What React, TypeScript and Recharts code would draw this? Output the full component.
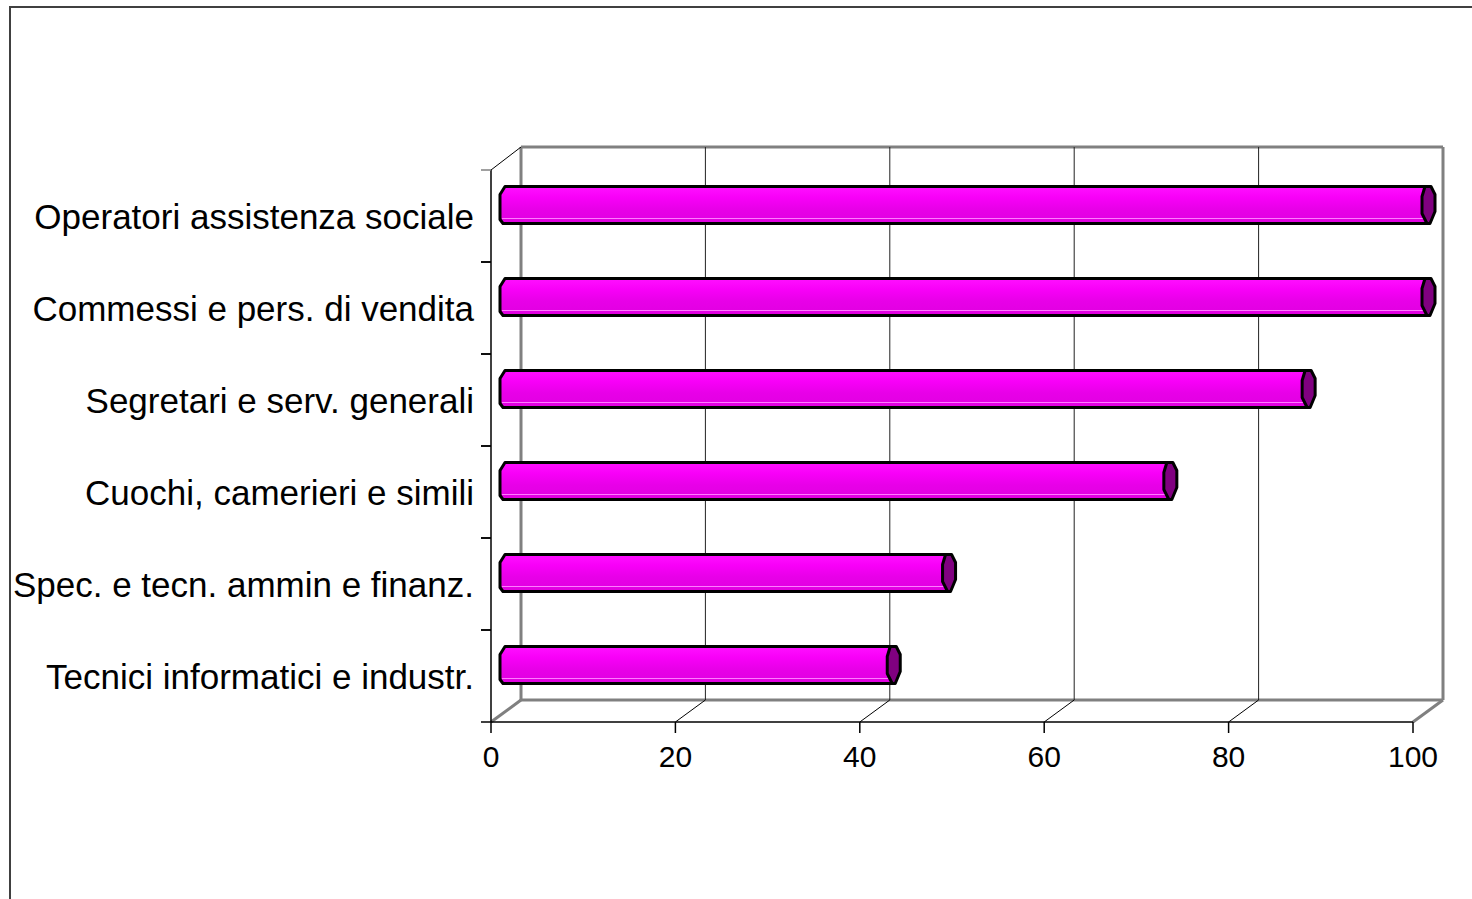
import React from 'react';
import { BarChart, Bar, XAxis, YAxis, CartesianGrid } from 'recharts';

const categories = [
  'Operatori assistenza sociale',
  'Commessi e pers. di vendita',
  'Segretari e serv. generali',
  'Cuochi, camerieri e simili',
  'Spec. e tecn. ammin e finanz.',
  'Tecnici informatici e industr.',
];
const values = [100, 100, 87, 72, 48, 42];
const xTicks = [0, 20, 40, 60, 80, 100];

const data = categories.map((name, i) => ({ name, value: values[i] }));

// 3d depth offset (Excel style)
const DX = 30;
const DY = 23;
const FONT = '"Liberation Sans", Arial, sans-serif';

const Prism = (props: any) => {
  const { x, y, width, height, index } = props;
  const x0 = x + DX / 2;
  const x1 = x + width + DX / 2;
  const top = y - DY / 2;
  const bot = top + height;
  const id = `prism-grad-${index}`;
  const body = `M${x0 - 1},${top} L${x1},${top} L${x1},${bot} L${x0 - 3},${bot} L${x0 - 6},${bot - 4} L${x0 - 6},${top + 8} Z`;
  const face = [
    [x1 - 3, top],
    [x1 + 3, top],
    [x1 + 7, top + 8],
    [x1 + 7, bot - 12],
    [x1 + 2, bot],
    [x1 - 1, bot],
    [x1 - 6, bot - 10],
    [x1 - 6, top + 10],
  ]
    .map((p) => p.join(','))
    .join(' ');
  return (
    <g>
      <defs>
        <linearGradient id={id} x1="0" y1="0" x2="0" y2="1">
          <stop offset="0%" stopColor="#ff10ff" />
          <stop offset="30%" stopColor="#f800f8" />
          <stop offset="60%" stopColor="#e800e8" />
          <stop offset="100%" stopColor="#e000e0" />
        </linearGradient>
      </defs>
      <path d={body} fill={`url(#${id})`} stroke="#000" strokeWidth={3} strokeLinejoin="round" />
      <line x1={x0 - 4} y1={bot - 5} x2={x1 - 4} y2={bot - 5} stroke="#ff7cff" strokeWidth={1.2} />
      <polygon points={face} fill="#800080" stroke="#000" strokeWidth={3} strokeLinejoin="round" />
    </g>
  );
};

// back wall, floor and gridlines
const WallLine = (props: any) => {
  const { x1, y1, y2, index, width } = props;
  const last = index === xTicks.length - 1;
  const edge = index === 0 || last;
  const bx = x1 + DX;
  const parts: React.ReactNode[] = [];
  parts.push(
    <line key="b" x1={bx} y1={y1 - DY} x2={bx} y2={y2 - DY + 1} stroke={edge ? '#808080' : '#222'} strokeWidth={edge ? 3 : 1} />
  );
  parts.push(
    <line key="f" x1={x1} y1={y2} x2={bx} y2={y2 - DY + 1} stroke={edge ? '#808080' : '#000'} strokeWidth={edge ? 3 : 1} />
  );
  if (index === 0) {
    const w = width ?? 922;
    parts.push(<line key="t" x1={bx} y1={y1 - DY} x2={bx + w} y2={y1 - DY} stroke="#808080" strokeWidth={3} />);
    parts.push(<line key="d" x1={bx} y1={y2 - DY + 1} x2={bx + w} y2={y2 - DY + 1} stroke="#808080" strokeWidth={3} />);
    parts.push(<line key="l" x1={x1} y1={y1} x2={bx} y2={y1 - DY} stroke="#000" strokeWidth={1} />);
  }
  return <g key={`wall-${index}`}>{parts}</g>;
};

const CategoryTick = (props: any) => {
  const { x, y, payload, index } = props;
  const half = payload && payload.offset ? payload.offset : 46;
  const axisX = x + 17;
  return (
    <g>
      <line x1={axisX - 10} y1={y - half} x2={axisX} y2={y - half} stroke={index === 0 ? '#808080' : '#000'} strokeWidth={1.5} />
      <line x1={axisX - 10} y1={y + half} x2={axisX} y2={y + half} stroke="#000" strokeWidth={1.5} />
      <text x={x} y={y} dy="0.36em" textAnchor="end" fontSize={35} fontFamily={FONT} fill="#000">
        {payload.value}
      </text>
    </g>
  );
};

export default function App() {
  return (
    <div style={{ position: 'fixed', left: 0, top: 0, width: 1472, height: 899, overflow: 'hidden', background: '#fff' }}>
      <div
        style={{
          position: 'absolute',
          left: 9,
          top: 6,
          width: 1600,
          height: 1000,
          borderLeft: '2px solid #404040',
          borderTop: '2px solid #404040',
        }}
      />
      <div style={{ position: 'absolute', left: 0, top: 0 }}>
        <BarChart
          width={1472}
          height={899}
          data={data}
          layout="vertical"
          margin={{ top: 170, right: 59, bottom: 117, left: 0 }}
          barSize={37}
        >
          <CartesianGrid horizontal={false} vertical={WallLine} />
          <XAxis
            type="number"
            domain={[0, 100]}
            ticks={xTicks}
            height={60}
            interval={0}
            tickSize={11}
            tickMargin={13}
            axisLine={{ stroke: '#000', strokeWidth: 1.5 }}
            tickLine={{ stroke: '#000', strokeWidth: 1.5 }}
            tick={{ fontSize: 30, fill: '#000', fontFamily: FONT }}
          />
          <YAxis
            type="category"
            dataKey="name"
            width={491}
            interval={0}
            tickSize={10}
            tickMargin={7}
            tickLine={false}
            axisLine={{ stroke: '#000', strokeWidth: 1.5 }}
            tick={CategoryTick}
          />
          <Bar dataKey="value" fill="#ff00ff" shape={Prism} isAnimationActive={false} />
        </BarChart>
      </div>
    </div>
  );
}
